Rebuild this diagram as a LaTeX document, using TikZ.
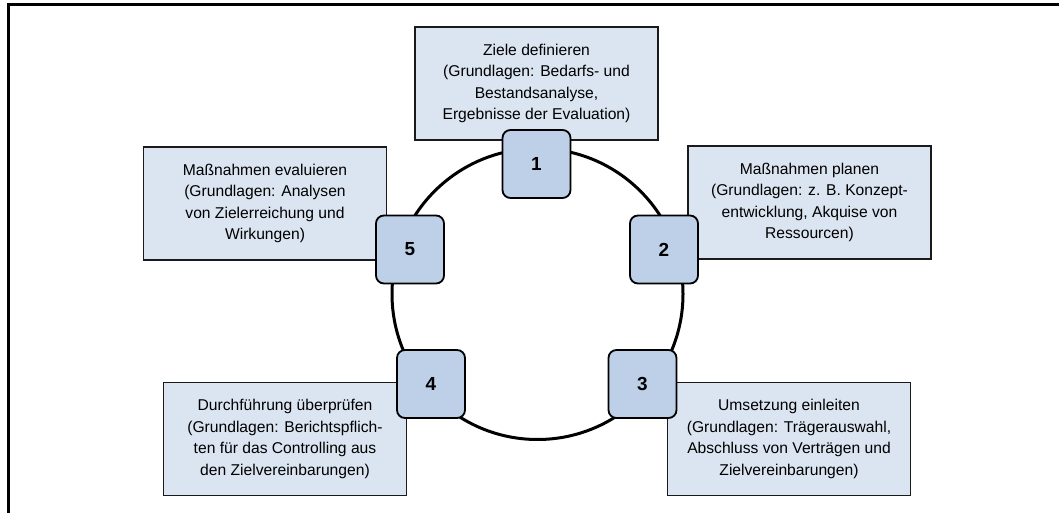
\documentclass[tikz,border=0pt]{standalone}
\usepackage{fontspec}
\setmainfont{Liberation Sans}
\definecolor{boxblue}{HTML}{DBE5F1}
\definecolor{numblue}{HTML}{BED0E8}
\definecolor{edgegray}{HTML}{1A1A1A}
\begin{document}
\begin{tikzpicture}[x=1bp,y=-1bp,
  infobox/.style={draw=edgegray, line width=1.6bp, fill=boxblue,
    minimum width=243bp, minimum height=113bp, inner sep=0pt, align=center,
    font=\fontsize{15.7}{21.6}\selectfont},
  numbox/.style={draw=black, line width=1.8bp, fill=numblue, rounded corners=8bp,
    minimum size=68bp, inner sep=0pt, font=\fontsize{19}{20}\selectfont\bfseries},
  ringline/.style={draw=black, line width=3bp, circle, minimum size=291bp, inner sep=0pt},
  frameline/.style={draw=black, line width=3bp}]
\useasboundingbox (0,0) rectangle (1059,513);
% frame
\coordinate (fa) at (8,514);
\coordinate (fb) at (8,5);
\coordinate (fc) at (1060,5);
\draw[frameline] (fa) -- (fb) -- (fc);
% text boxes
\node[infobox] (b1) at (536.5,83.5) {Ziele definieren\\(Grundlagen: Bedarfs- und\\Bestandsanalyse,\\Ergebnisse der Evaluation)};
\node[infobox] (b2) at (809.5,202.5) {Maßnahmen planen\\(Grundlagen: z. B. Konzept-\\entwicklung, Akquise von\\Ressourcen)};
\node[infobox] (b3) at (789,439) {Umsetzung einleiten\\(Grundlagen: Trägerauswahl,\\Abschluss von Verträgen und\\Zielvereinbarungen)};
\node[infobox] (b4) at (285,439) {Durchführung überprüfen\\(Grundlagen: Berichtspflich-\\ten für das Controlling aus\\den Zielvereinbarungen)};
\node[infobox] (b5) at (265,203.5) {Maßnahmen evaluieren\\(Grundlagen: Analysen\\von Zielerreichung und\\Wirkungen)};
% cycle ring
\node[ringline] (ring) at (537.5,294) {};
% number squares
\node[numbox] (n1) at (536.5,164) {1};
\node[numbox] (n2) at (664,249.5) {2};
\node[numbox] (n3) at (642.5,384) {3};
\node[numbox] (n4) at (431,384) {4};
\node[numbox] (n5) at (410,249.5) {5};
\end{tikzpicture}
\end{document}
